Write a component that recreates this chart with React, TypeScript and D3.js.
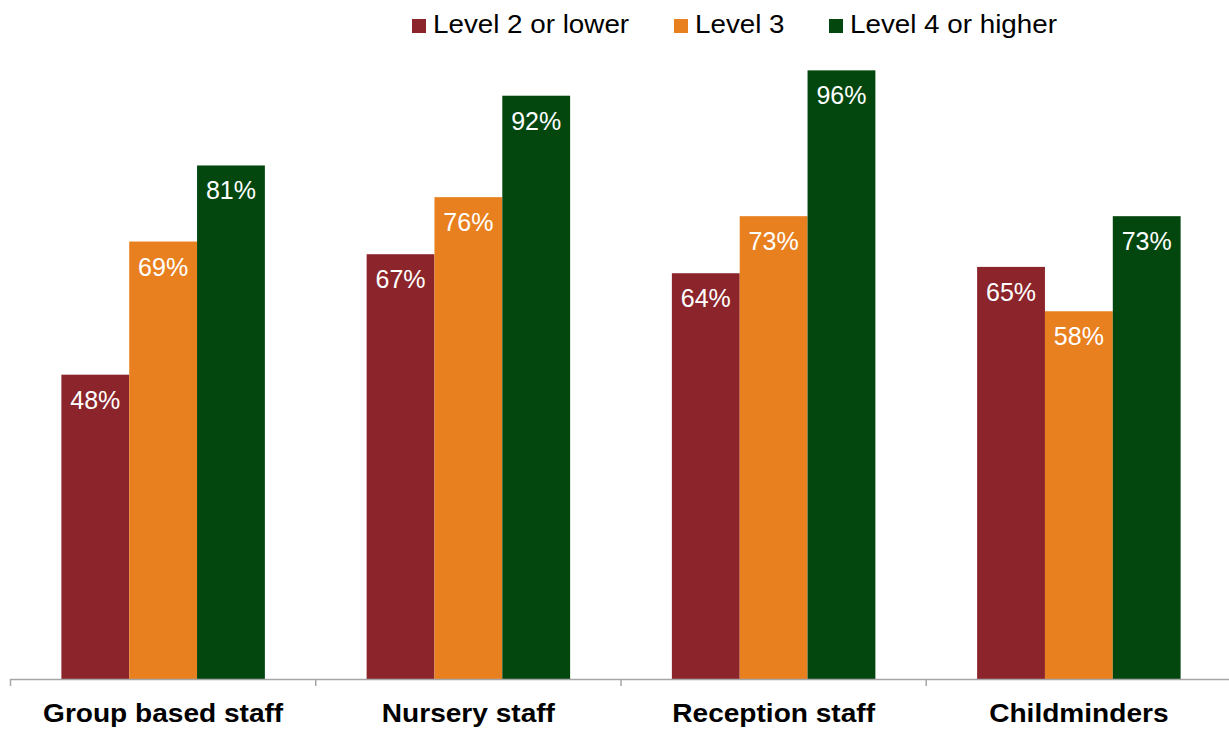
import React from "react";
import { scaleBand, scaleLinear } from "d3";

const categories = ["Group based staff", "Nursery staff", "Reception staff", "Childminders"];
const seriesNames = ["Level 2 or lower", "Level 3", "Level 4 or higher"];
const level2 = [48, 67, 64, 65];
const level3 = [69, 76, 73, 58];
const level4 = [81, 92, 96, 73];
const colors = ["#8B252B", "#E8801F", "#03470F"];

const W = 1229;
const H = 731;
const font = "'Liberation Sans', Arial, sans-serif";

const App = () => {
  const values = [level2, level3, level4];
  const left = 10.5;
  const right = 1231.5;
  const base = 679;

  // scales
  const x0 = scaleBand().domain(categories).range([left, right]).padding(0);
  const x1 = scaleBand().domain(seriesNames).range([0, x0.bandwidth()]).paddingInner(0).paddingOuter(0.75);
  const y = scaleLinear().domain([0, 100]).range([base, 45]);

  const bars = categories.map((c, i) => (
    <g key={c} transform={`translate(${x0(c)},0)`}>
      {seriesNames.map((s, j) => {
        const v = values[j][i];
        const bx = x1(s) as number;
        return (
          <g key={s}>
            <rect x={bx} y={y(v)} width={x1.bandwidth()} height={base - y(v)} fill={colors[j]} />
            <text
              x={bx + x1.bandwidth() / 2}
              y={y(v) + 34}
              textAnchor="middle"
              fill="#FFF"
              fontSize={25}
              fontFamily={font}
            >
              {v}%
            </text>
          </g>
        );
      })}
    </g>
  ));

  const ticks = [...categories.map((c) => x0(c) as number), right];
  const axis = (
    <g>
      <line x1={left} x2={W} y1={base + 0.5} y2={base + 0.5} stroke="#A6A6A6" strokeWidth={1.5} />
      {ticks.map((t, i) => (
        <line key={i} x1={t} x2={t} y1={base} y2={base + 7} stroke="#A6A6A6" strokeWidth={1.5} />
      ))}
      {categories.map((c) => (
        <g key={c} transform={`translate(${(x0(c) as number) + x0.bandwidth() / 2},722) scale(1.08,1)`}>
          <text textAnchor="middle" fontWeight="bold" fontSize={26} fontFamily={font} fill="#000">
            {c}
          </text>
        </g>
      ))}
    </g>
  );

  // legend
  const legendX = [412, 674, 829];
  const legend = seriesNames.map((s, j) => (
    <g key={s} transform={`translate(${legendX[j]},19)`}>
      <rect x={0} y={0} width={14} height={14} fill={colors[j]} />
      <text x={21} y={14} fontSize={25.5} fontFamily={font} fill="#000" transform="scale(1.09,1)" style={{ transformOrigin: "21px 0px" }}>
        {s}
      </text>
    </g>
  ));

  return (
    <svg
      width={W}
      height={H}
      viewBox={`0 0 ${W} ${H}`}
      style={{ position: "absolute", left: 0, top: 0, background: "#FFF" }}
    >
      {bars}
      {axis}
      {legend}
    </svg>
  );
};

export default App;
